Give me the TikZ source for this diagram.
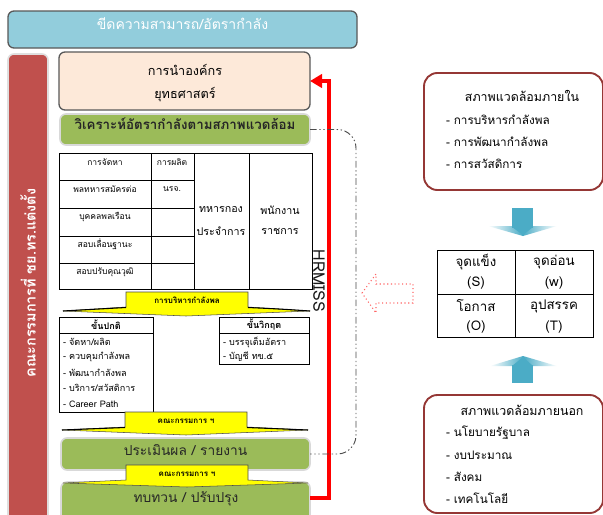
\documentclass[tikz,border=0pt]{standalone}
\usepackage{fontspec}
\setmainfont{Loma}[Script=Thai]
\usetikzlibrary{fit,arrows.meta}
\definecolor{titlefill}{HTML}{92CDDC}
\definecolor{titledraw}{HTML}{595959}
\definecolor{leftbar}{HTML}{C0504D}
\definecolor{peachc}{HTML}{FDE9D9}
\definecolor{olive}{HTML}{9BBB59}
\definecolor{envdraw}{HTML}{953735}
\definecolor{blueA}{HTML}{4BACC6}
\definecolor{banyel}{HTML}{FFFF00}
\newcommand{\fsz}[1]{\fontsize{#1}{#1}\selectfont}
\begin{document}
\begin{tikzpicture}[x=0.75pt,y=-0.75pt,
  box/.style={inner sep=0pt, outer sep=0pt, rounded corners=4.5pt},
  greenbox/.style={box, fill=olive, draw=gray!30, line width=1.2pt, text=black!85, font=\fsz{10}\bfseries},
  lbl/.style={inner sep=0pt, outer sep=0pt},
  tiny/.style={lbl, font=\fsz{6.4}},
  small/.style={lbl, font=\fsz{6.8}},
  mid/.style={lbl, font=\fsz{9.5}},
  cellbig/.style={lbl, font=\fsz{8}},
  envbox/.style={box, rounded corners=10pt, draw=envdraw, line width=1.4pt, fill=white},
  envtitle/.style={lbl, font=\fsz{9.3}},
  envtxt/.style={lbl, font=\fsz{8.8}},
  swottxt/.style={lbl, font=\fsz{10}},
  grid/.style={draw=black, line width=0.6pt},
  banner/.style={fill=banyel, draw=gray!60!black, line width=0.4pt},
  wing/.style={draw=black, line width=0.8pt},
  redline/.style={draw=red, line width=3pt},
  bracket/.style={draw=gray!60!black, line width=0.7pt, dash pattern=on 5pt off 2pt on 1pt off 2pt on 1pt off 2pt, rounded corners=14pt},
  bluehead/.style={left color=white, right color=white, middle color=blueA},
]
\useasboundingbox (0,0) rectangle (603,514);
\begin{scope}
\clip (0,0) rectangle (603,514);
\fill[white] (0,0) rectangle (603,514);

% title bar
\node[box, fill=titlefill, draw=titledraw, line width=1pt, fit={(8,11)(357,48)}, text=white, font=\fsz{10.5}] (title) {ขีดความสามารถ/อัตรากำลัง};

% left red bar
\node[box, fill=leftbar, draw=gray!25, line width=1.2pt, fit={(8,54)(48,540)}] (lbar) {};
\node[lbl, rotate=90, text=white, font=\fsz{10.8}\bfseries] (lbartxt) at (28,283) {คณะกรรมการที่ ชย.ทร.แต่งตั้ง};

% peach box
\node[box, fill=peachc, draw=titledraw, line width=1pt, fit={(59,52)(310,110)}] (peach) {};
\node[mid] (peach1) at (185,70) {การนำองค์กร};
\node[mid] (peach2) at (185,95) {ยุทธศาสตร์};

% analysis box
\node[greenbox, fit={(60,114)(310,145)}] (ana) {วิเคราะห์อัตรากำลังตามสภาพแวดล้อม};

% table
\node[lbl, grid, fit={(59,153)(312,289)}] (tbl) {};
\draw[grid] (151,153) -- (151,289);
\draw[grid] (194,153) -- (194,289);
\draw[grid] (249,153) -- (249,289);
\foreach \yy in {180,208,236,263} \draw[grid] (59,\yy) -- (194,\yy);
\node[tiny] (c11) at (105,162) {การจัดหา};
\node[tiny] (c12) at (172,162) {การผลิต};
\node[tiny] (c21) at (105,189) {พลทหารสมัครต่อ};
\node[tiny] (c22) at (172,189) {นรจ.};
\node[tiny] (c31) at (105,217) {บุคคลพลเรือน};
\node[tiny] (c41) at (105,244) {สอบเลื่อนฐานะ};
\node[tiny] (c51) at (105,272) {สอบปรับคุณวุฒิ};
\node[cellbig] (c3a) at (221,210) {ทหารกอง};
\node[cellbig] (c3b) at (221,231) {ประจำการ};
\node[cellbig] (c4a) at (280,210) {พนักงาน};
\node[cellbig] (c4b) at (280,231) {ราชการ};

% banner 1
\path[banner] (126,292) -- (248,292) -- (248,307) -- (310,311) -- (186,316) -- (63,311) -- (126,307) -- cycle;
\draw[wing] (63,311) .. controls (95,309) .. (126,307.5);
\draw[wing] (248,307.5) .. controls (280,309) .. (310,311);
\node[tiny, font=\fsz{6}\bfseries] (ban1) at (187,300) {การบริหารกำลังพล};

% normal box
\node[lbl, grid, fill=white, fit={(59,317)(153,412)}] (normal) {};
\draw[grid] (59,333) -- (153,333);
\node[small, font=\fsz{6.8}\bfseries] (normalh) at (106,325) {ขั้นปกติ};
\node[small, anchor=west] (n1) at (63,342) {- จัดหา/ผลิต};
\node[small, anchor=west] (n2) at (63,357) {- ควบคุมกำลังพล};
\node[small, anchor=west] (n3) at (63,373) {- พัฒนากำลังพล};
\node[small, anchor=west] (n4) at (63,388) {- บริการ/สวัสดิการ};
\node[small, anchor=west] (n5) at (63,404) {- Career Path};

% crisis box
\node[lbl, grid, fill=white, fit={(219,317)(309,364)}] (crisis) {};
\draw[grid] (219,333) -- (309,333);
\node[small, font=\fsz{6.8}\bfseries] (crisish) at (264,325) {ขั้นวิกฤต};
\node[small, anchor=west] (k1) at (223,342) {- บรรจุเต็มอัตรา};
\node[small, anchor=west] (k2) at (223,357) {- บัญชี ทข.๕};

% banner 2
\path[banner] (125,412) -- (247,412) -- (247,427) -- (308,430) -- (186,435) -- (62,430) -- (125,427) -- cycle;
\draw[wing] (62,430) .. controls (94,428.5) .. (125,427.5);
\draw[wing] (247,427.5) .. controls (278,428.5) .. (308,430);
\node[tiny, font=\fsz{6}\bfseries] (ban2) at (186,421) {คณะกรรมการ ฯ};

% evaluation and review boxes
\node[greenbox, font=\fsz{10.3}, fit={(61,438)(310,470)}] (eval) {\raisebox{-3pt}{ประเมินผล / รายงาน}};
\node[greenbox, fit={(61,482)(310,530)}] (reviewbg) {};
\coordinate (review) at (310,498);
\node[lbl, font=\fsz{10.3}, text=black!85] (reviewtxt) at (186,499) {ทบทวน / ปรับปรุง};

% banner 3
\path[banner] (126,465) -- (248,465) -- (248,480) -- (308,483) -- (187,487) -- (63,483) -- (126,480) -- cycle;
\node[tiny, font=\fsz{6}\bfseries] (ban3) at (187,474) {คณะกรรมการ ฯ};

% red feedback line
\draw[redline, -{Triangle[length=9pt,width=10pt]}] (review) -- ++(19,0) |- (peach.east);

% dash-dot bracket
\draw[bracket] (ana.east) -- ++(46,0) |- (eval.east);

% HRMISS
\node[lbl, rotate=-90, font=\fsz{12}, text=black!90] (hrmiss) at (319,281) {HRMISS};

% hollow dotted arrow
\draw[red!60, dotted, line width=0.8pt, fill=white] (362,293) -- (376,274) -- (376,284) -- (413,284) -- (413,303) -- (376,303) -- (376,313) -- cycle;

% internal environment box
\node[envbox, fit={(424,73)(603,190)}] (inenv) {};
\node[envtitle] (in0) at (522,96) {สภาพแวดล้อมภายใน};
\node[envtxt, anchor=west] (in1) at (446,120) {- การบริหารกำลังพล};
\node[envtxt, anchor=west] (in2) at (446,142) {- การพัฒนากำลังพล};
\node[envtxt, anchor=west] (in3) at (446,164) {- การสวัสดิการ};

% down arrow
\path[bluehead] (488,226) -- (557,226) -- (523,236) -- cycle;
\fill[blueA] (512,208) rectangle (533,228);
\fill[blueA] (512,227) -- (533,227) -- (523,235) -- cycle;

% SWOT
\node[lbl, grid, fit={(437,250)(593,337)}] (swot) {};
\draw[grid] (515,250) -- (515,337);
\draw[grid] (437,294) -- (593,294);
\node[swottxt] (s1) at (476,262) {จุดแข็ง};
\node[swottxt] (s2) at (476,283) {(S)};
\node[swottxt] (w1) at (554,262) {จุดอ่อน};
\node[swottxt] (w2) at (554,283) {(w)};
\node[swottxt] (o1) at (476,306) {โอกาส};
\node[swottxt] (o2) at (476,327) {(O)};
\node[swottxt] (t1) at (554,306) {อุปสรรค};
\node[swottxt] (t2) at (554,327) {(T)};

% up arrow
\path[bluehead] (490,366) -- (557,366) -- (523,356) -- cycle;
\fill[blueA] (512,365) rectangle (533,383);
\fill[blueA] (512,366) -- (533,366) -- (523,357) -- cycle;

% external environment box
\node[envbox, fit={(424,395)(603,513)}] (exenv) {};
\node[envtitle] (ex0) at (522,410) {สภาพแวดล้อมภายนอก};
\node[envtxt, anchor=west] (ex1) at (446,433) {- นโยบายรัฐบาล};
\node[envtxt, anchor=west] (ex2) at (446,455) {- งบประมาณ};
\node[envtxt, anchor=west] (ex3) at (446,477) {- สังคม};
\node[envtxt, anchor=west] (ex4) at (446,498) {- เทคโนโลยี};
\end{scope}
\end{tikzpicture}
\end{document}
